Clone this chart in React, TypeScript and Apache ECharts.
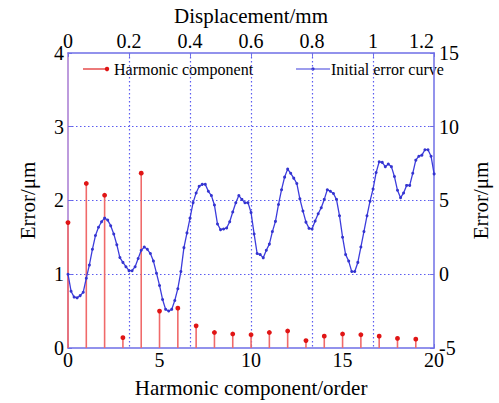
import React, { useEffect, useRef } from "react";
import * as echarts from "echarts";

// Harmonic component (bottom axis: order, left axis: Error/μm)
const harmonicOrder = [0, 1, 2, 3, 4, 5, 6, 7, 8, 9, 10, 11, 12, 13, 14, 15, 16, 17, 18, 19];
const harmonicAmp = [1.7, 2.23, 2.07, 0.14, 2.37, 0.5, 0.54, 0.3, 0.21, 0.19, 0.18, 0.21, 0.23, 0.1, 0.16, 0.19, 0.18, 0.16, 0.13, 0.12];

// Initial error curve (top axis: displacement/mm, sampled every 0.01 mm; right axis: Error/μm)
const displacementStep = 0.01;
const errorCurve = [
  0.0, -1.15, -1.55, -1.6, -1.45, -1.22, -0.27, 0.62, 1.69, 2.62,
  3.18, 3.56, 3.8, 3.67, 3.29, 2.73, 2.0, 1.13, 0.8, 0.51,
  0.24, 0.24, 0.51, 1.07, 1.62, 1.84, 1.69, 1.4, 0.89, 0.07,
  -0.76, -1.71, -2.38, -2.49, -2.38, -1.78, -0.98, 0.18, 1.8, 2.8,
  3.8, 4.85, 5.51, 5.96, 6.09, 6.09, 5.62, 5.33, 4.69, 3.4,
  3.02, 3.07, 3.13, 3.56, 4.22, 4.84, 5.33, 5.07, 4.84, 4.85,
  4.18, 2.73, 1.4, 1.33, 1.11, 1.62, 2.04, 2.89, 3.58, 4.73,
  5.73, 6.58, 7.13, 6.84, 6.51, 6.15, 5.11, 4.29, 3.53, 3.11,
  3.07, 3.6, 4.1, 4.51, 5.07, 5.73, 5.62, 5.47, 5.07, 3.96,
  2.51, 1.33, 0.89, 0.18, 0.18, 0.8, 1.84, 2.89, 3.96, 4.95,
  5.78, 6.89, 7.62, 7.58, 7.29, 7.47, 7.29, 6.62, 5.69, 5.18,
  5.51, 6.02, 6.02, 6.84, 7.73, 8.0, 8.07, 8.44, 8.44, 8.0,
  6.8,
];

const SERIF = "'Liberation Serif', 'Times New Roman', serif";
const AXIS_BLUE = "#6f6fe6";
const GRID_BLUE = "#5c5cf0";

export default function App() {
  const ref = useRef<HTMLDivElement>(null);

  useEffect(() => {
    if (!ref.current) return;
    const chart = echarts.init(ref.current, null, { renderer: "svg" });

    const stemData = harmonicOrder.map((o, i) => [o, harmonicAmp[i]]);
    const curveData = errorCurve.map((v, i) => [+(i * displacementStep).toFixed(2), v]);

    const labelStyle = { color: "#000", fontFamily: SERIF, fontSize: 20 };
    const nameStyle = { color: "#000", fontFamily: SERIF, fontSize: 21 };
    const gridLine = {
      show: true,
      showMinLine: false,
      showMaxLine: false,
      lineStyle: { color: [GRID_BLUE], type: [1.5, 2.5], width: 1.2, opacity: 1 },
    };

    chart.setOption({
      animation: false,
      backgroundColor: "#fff",
      grid: { left: 68, right: 49, top: 51, bottom: 52, containLabel: false },
      xAxis: [
        {
          type: "value",
          position: "bottom",
          min: 0,
          max: 20,
          interval: 5,
          axisLine: { show: true, onZero: false, lineStyle: { color: AXIS_BLUE, width: 1.5 } },
          axisTick: { show: true, inside: true, length: 4, lineStyle: { color: AXIS_BLUE } },
          axisLabel: { ...labelStyle, margin: 2 },
          splitLine: { show: false },
          name: "Harmonic component/order",
          nameLocation: "middle",
          nameGap: 29,
          nameTextStyle: nameStyle,
        },
        {
          type: "value",
          position: "top",
          min: 0,
          max: 1.2,
          interval: 0.2,
          axisLine: { show: true, onZero: false, lineStyle: { color: AXIS_BLUE, width: 1.5 } },
          axisTick: { show: true, inside: true, length: 4, lineStyle: { color: AXIS_BLUE } },
          axisLabel: { ...labelStyle, margin: 2, alignMaxLabel: "right" },
          splitLine: gridLine,
          name: "Displacement/mm",
          nameLocation: "middle",
          nameGap: 25,
          nameTextStyle: nameStyle,
        },
      ],
      yAxis: [
        {
          type: "value",
          position: "left",
          min: 0,
          max: 4,
          interval: 1,
          axisLine: { show: true, onZero: false, lineStyle: { color: "#a77ad2", width: 1.5 } },
          axisTick: { show: true, inside: true, length: 4, lineStyle: { color: AXIS_BLUE } },
          axisLabel: { ...labelStyle, margin: 4 },
          splitLine: gridLine,
          name: "Error/μm",
          nameLocation: "middle",
          nameGap: 30,
          nameRotate: 90,
          nameTextStyle: nameStyle,
        },
        {
          type: "value",
          position: "right",
          min: -5,
          max: 15,
          interval: 5,
          axisLine: { show: true, onZero: false, lineStyle: { color: AXIS_BLUE, width: 1.5 } },
          axisTick: { show: true, inside: true, length: 4, lineStyle: { color: AXIS_BLUE } },
          axisLabel: { ...labelStyle, margin: 5 },
          splitLine: { show: false },
          name: "Error/μm",
          nameLocation: "middle",
          nameGap: 28,
          nameRotate: 90,
          nameTextStyle: nameStyle,
        },
      ],
      series: [
        {
          name: "Harmonic component",
          type: "custom",
          xAxisIndex: 0,
          yAxisIndex: 0,
          data: stemData,
          renderItem: (params: any, api: any) => {
            const x = api.value(0);
            const y = api.value(1);
            const p0 = api.coord([x, 0]);
            const p1 = api.coord([x, y]);
            return {
              type: "group",
              children: [
                {
                  type: "line",
                  shape: { x1: p0[0], y1: p0[1], x2: p1[0], y2: p1[1] },
                  style: { stroke: "#f06a6a", lineWidth: 1.6 },
                },
                {
                  type: "circle",
                  shape: { cx: p1[0], cy: p1[1], r: 2.4 },
                  style: { fill: "#e01515", stroke: "none" },
                },
              ],
            };
          },
          z: 3,
        },
        {
          name: "Initial error curve",
          type: "line",
          xAxisIndex: 1,
          yAxisIndex: 1,
          data: curveData,
          showSymbol: true,
          symbol: "circle",
          symbolSize: 3,
          itemStyle: { color: "#3434d0" },
          lineStyle: { color: "#3c3cdc", width: 1.3 },
          z: 4,
        },
      ],
      graphic: [
        { type: "line", shape: { x1: 83, y1: 69, x2: 107, y2: 69 }, style: { stroke: "#e02020", lineWidth: 1.2 } },
        { type: "circle", shape: { cx: 107, cy: 69, r: 2.2 }, style: { fill: "#e01515" } },
        {
          type: "text",
          x: 114,
          y: 69,
          style: {
            text: "Harmonic component",
            font: "16px 'Liberation Serif', serif",
            fontFamily: SERIF,
            fontSize: 16,
            fill: "#000",
            verticalAlign: "middle",
          },
        },
        { type: "line", shape: { x1: 296, y1: 69, x2: 330, y2: 69 }, style: { stroke: "#3c3cdc", lineWidth: 1.2 } },
        { type: "circle", shape: { cx: 313, cy: 69, r: 1.6 }, style: { fill: "#3434d0" } },
        {
          type: "text",
          x: 331,
          y: 69,
          style: {
            text: "Initial error curve",
            font: "16px 'Liberation Serif', serif",
            fontFamily: SERIF,
            fontSize: 16,
            fill: "#000",
            verticalAlign: "middle",
          },
        },
      ],
    });

    return () => chart.dispose();
  }, []);

  return (
    <div
      ref={ref}
      style={{ position: "fixed", left: 0, top: 0, width: 499, height: 403, background: "#fff" }}
    />
  );
}
